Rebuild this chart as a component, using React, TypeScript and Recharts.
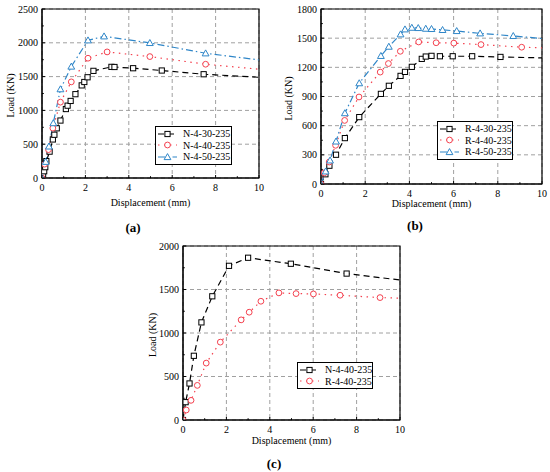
import React from 'react';
import { LineChart, Line, XAxis, YAxis, CartesianGrid, Legend, ReferenceArea } from 'recharts';

const FONT = '"Liberation Serif", "Times New Roman", serif';
const BLACK = '#000000';
const RED = '#f4414f';
const BLUE = '#2f86c8';

type Pt = [number, number];

const xTicks = [0, 2, 4, 6, 8, 10];
const yTicksA = [0, 500, 1000, 1500, 2000, 2500];
const yTicksB = [0, 300, 600, 900, 1200, 1500, 1800];
const yTicksC = [0, 500, 1000, 1500, 2000];

// displacement (mm), load (KN)
const n430: Pt[] = [
  [0, 0], [0.05, 50], [0.1, 100], [0.15, 160], [0.2, 250], [0.35, 390], [0.5, 570], [0.57, 640],
  [0.68, 735], [0.85, 850], [1.1, 1020], [1.18, 1070], [1.32, 1140], [1.54, 1240], [1.83, 1370],
  [1.95, 1420], [2.1, 1490], [2.37, 1585], [3.2, 1644], [3.34, 1642], [4.2, 1624], [5.52, 1590],
  [7.45, 1535], [10, 1490],
];
const n440: Pt[] = [
  [0, 0], [0.12, 205], [0.3, 420], [0.5, 738], [0.85, 1122], [1.35, 1422], [2.12, 1772],
  [3.0, 1865], [4.97, 1796], [7.54, 1683], [10, 1609],
];
const n450: Pt[] = [
  [0, 0], [0.17, 240], [0.32, 467], [0.52, 812], [0.85, 1314], [1.35, 1649], [2.12, 2037],
  [2.86, 2096], [4.97, 1998], [7.54, 1845], [10, 1747],
];
const r430: Pt[] = [
  [0, 0], [0.2, 100], [0.38, 188], [0.68, 301], [1.08, 472], [1.73, 688], [2.71, 927], [3.07, 1010],
  [3.6, 1112], [3.8, 1153], [4.11, 1205], [4.56, 1287], [4.74, 1311], [5.0, 1318], [5.38, 1314],
  [5.96, 1314], [6.84, 1314], [8.12, 1307], [10, 1297],
];
const r440: Pt[] = [
  [0, 0], [0.15, 115], [0.37, 226], [0.66, 398], [1.07, 654], [1.72, 895], [2.68, 1151],
  [3.05, 1239], [3.59, 1365], [4.42, 1461], [5.21, 1453], [6.01, 1449], [7.24, 1434],
  [9.08, 1407], [10, 1400],
];
const r450: Pt[] = [
  [0, 0], [0.21, 130], [0.41, 243], [0.68, 438], [1.08, 729], [1.73, 1037], [2.71, 1318],
  [3.07, 1413], [3.6, 1540], [3.8, 1591], [4.11, 1608], [4.4, 1605], [4.74, 1598], [5.0, 1595],
  [5.5, 1585], [6.14, 1574], [7.2, 1550], [8.7, 1523], [10, 1496],
];

const rows = (pts: Pt[]) => pts.map(([x, y]) => ({ x, y }));

type Kind = 'square' | 'circle' | 'triangle';
type Series = { name: string; pts: Pt[]; color: string; dash: string; kind: Kind };

const DASHED = '6 4';
const DOTTED = '1.5 4.5';
const DASHDOT = '7 3 1.5 3';

const Marker = ({ kind, cx, cy, color }: { kind: Kind; cx: number; cy: number; color: string }) => {
  if (kind === 'square')
    return <rect x={cx - 2.6} y={cy - 2.6} width={5.2} height={5.2} fill="#fff" stroke={color} strokeWidth={1} />;
  if (kind === 'circle') return <circle cx={cx} cy={cy} r={2.9} fill="#fff" stroke={color} strokeWidth={1} />;
  return (
    <polygon
      points={`${cx},${cy - 3.4} ${cx - 3.4},${cy + 2.6} ${cx + 3.4},${cy + 2.6}`}
      fill="#fff"
      stroke={color}
      strokeWidth={1}
    />
  );
};

const LegendBox = ({ series, width }: { series: Series[]; width: number }) => (
  <div
    style={{
      border: '1px solid #000',
      background: '#fff',
      width,
      padding: '1px 0',
      fontFamily: FONT,
      fontSize: 10,
      color: '#000',
      boxSizing: 'border-box',
    }}
  >
    {series.map((s) => (
      <div key={s.name} style={{ display: 'flex', alignItems: 'center', height: 11.5, whiteSpace: 'nowrap' }}>
        <svg width={24} height={10} style={{ marginLeft: 1, marginRight: 2, flex: 'none' }}>
          <line x1={1} x2={20} y1={5} y2={5} stroke={s.color} strokeWidth={1.2} strokeDasharray={s.dash} />
          <Marker kind={s.kind} cx={10.5} cy={5} color={s.color} />
        </svg>
        <span style={{ lineHeight: '11px', fontFamily: FONT }}>{s.name}</span>
      </div>
    ))}
  </div>
);

type PanelProps = {
  left: number;
  top: number;
  margin: { top: number; right: number; bottom: number; left: number };
  yAxisWidth: number;
  yTicks: number[];
  series: Series[];
  legend: { left: number; top: number; width: number };
  xLabelDy: number;
  yLabelX: number;
  caption: string;
  captionPos: { x: number; y: number };
};

const W = 275;
const H = 215;
const X_AXIS_H = 30;
const X_MARGIN = 6;
const Y_MARGIN = 4;

const txt = { fontSize: 10, fontFamily: FONT, fill: '#000' };

const Panel = (p: PanelProps) => {
  const plotW = W - p.margin.left - p.margin.right - p.yAxisWidth;
  const plotH = H - p.margin.top - p.margin.bottom - X_AXIS_H;
  const xStep = plotW / (xTicks.length - 1);
  const yStep = plotH / (p.yTicks.length - 1);
  const yMax = p.yTicks[p.yTicks.length - 1];

  const xTick = (props: any) => {
    const { x, y, payload, index } = props;
    const ay = y - X_MARGIN;
    return (
      <g>
        <line x1={x} x2={x} y1={ay} y2={ay - 3} stroke="#000" />
        {index < xTicks.length - 1 && (
          <line x1={x + xStep / 2} x2={x + xStep / 2} y1={ay} y2={ay - 1.8} stroke="#000" />
        )}
        <text x={x} y={y} dy="0.71em" textAnchor="middle" style={txt}>
          {payload.value}
        </text>
      </g>
    );
  };

  const yTick = (props: any) => {
    const { x, y, payload, index } = props;
    const ax = x + Y_MARGIN;
    return (
      <g>
        <line x1={ax} x2={ax + 3} y1={y} y2={y} stroke="#000" />
        {index < p.yTicks.length - 1 && (
          <line x1={ax} x2={ax + 1.8} y1={y - yStep / 2} y2={y - yStep / 2} stroke="#000" />
        )}
        <text x={x} y={y} dy="0.355em" textAnchor="end" style={txt}>
          {payload.value}
        </text>
      </g>
    );
  };

  return (
    <div style={{ position: 'absolute', left: p.left, top: p.top, width: W, height: H + 30 }}>
      <LineChart width={W} height={H} margin={p.margin}>
        <CartesianGrid stroke="#a0a0a0" strokeDasharray="4 3" />
        <XAxis
          type="number"
          dataKey="x"
          domain={[0, 10]}
          ticks={xTicks}
          height={X_AXIS_H}
          tickSize={0}
          tickMargin={X_MARGIN}
          tickLine={false}
          tick={xTick}
          stroke="#000"
          allowDataOverflow
          label={{
            content: (lp: any) => {
              const vb = lp.viewBox;
              return (
                <text x={vb.x + vb.width / 2} y={vb.y + p.xLabelDy} dy="0.35em" textAnchor="middle" style={txt}>
                  Displacement (mm)
                </text>
              );
            },
          }}
        />
        <YAxis
          type="number"
          domain={[0, yMax]}
          ticks={p.yTicks}
          width={p.yAxisWidth}
          tickSize={0}
          tickMargin={Y_MARGIN}
          tickLine={false}
          tick={yTick}
          stroke="#000"
          allowDataOverflow
          label={{
            content: (lp: any) => {
              const vb = lp.viewBox;
              const cx = vb.x + p.yLabelX;
              const cy = vb.y + vb.height / 2 + 2;
              return (
                <text
                  x={cx}
                  y={cy}
                  dy="0.35em"
                  textAnchor="middle"
                  style={txt}
                  transform={`rotate(-90 ${cx} ${cy})`}
                >
                  Load (KN)
                </text>
              );
            },
          }}
        />
        <ReferenceArea x1={0} x2={10} y1={0} y2={yMax} fill="none" stroke="#000" strokeWidth={1.2} ifOverflow="visible" />
        {p.series.map((s) => {
          const data = rows(s.pts);
          return (
            <Line
              key={s.name}
              name={s.name}
              data={data}
              dataKey="y"
              type="linear"
              stroke={s.color}
              strokeWidth={1.2}
              strokeDasharray={s.dash}
              activeDot={false}
              isAnimationActive={false}
              dot={(dp: any) =>
                dp.index === data.length - 1 ? (
                  <g key={`d-${dp.index}`} />
                ) : (
                  <Marker key={`d-${dp.index}`} kind={s.kind} cx={dp.cx} cy={dp.cy} color={s.color} />
                )
              }
            />
          );
        })}
        <Legend
          layout="vertical"
          align="center"
          verticalAlign="middle"
          wrapperStyle={{ left: p.legend.left, top: p.legend.top, width: p.legend.width }}
          content={() => <LegendBox series={p.series} width={p.legend.width} />}
        />
      </LineChart>
      <div
        style={{
          position: 'absolute',
          left: p.captionPos.x - 20,
          top: p.captionPos.y - 8,
          width: 40,
          textAlign: 'center',
          fontFamily: FONT,
          fontWeight: 'bold',
          fontSize: 13,
          lineHeight: '16px',
          color: '#000',
        }}
      >
        {p.caption}
      </div>
    </div>
  );
};

const seriesA: Series[] = [
  { name: 'N-4-30-235', pts: n430, color: BLACK, dash: DASHED, kind: 'square' },
  { name: 'N-4-40-235', pts: n440, color: RED, dash: DOTTED, kind: 'circle' },
  { name: 'N-4-50-235', pts: n450, color: BLUE, dash: DASHDOT, kind: 'triangle' },
];
const seriesB: Series[] = [
  { name: 'R-4-30-235', pts: r430, color: BLACK, dash: DASHED, kind: 'square' },
  { name: 'R-4-40-235', pts: r440, color: RED, dash: DOTTED, kind: 'circle' },
  { name: 'R-4-50-235', pts: r450, color: BLUE, dash: DASHDOT, kind: 'triangle' },
];
const seriesC: Series[] = [
  { name: 'N-4-40-235', pts: n440, color: BLACK, dash: DASHED, kind: 'square' },
  { name: 'R-4-40-235', pts: r440, color: RED, dash: DOTTED, kind: 'circle' },
];

export default function App() {
  return (
    <div
      style={{
        position: 'absolute',
        left: 0,
        top: 0,
        width: 550,
        height: 472,
        background: '#fff',
        overflow: 'hidden',
        fontFamily: FONT,
      }}
    >
      <Panel
        left={0}
        top={0}
        margin={{ top: 9, right: 16, bottom: 7, left: 0 }}
        yAxisWidth={42}
        yTicks={yTicksA}
        series={seriesA}
        legend={{ left: 155, top: 126, width: 77 }}
        xLabelDy={24}
        yLabelX={10}
        caption="(a)"
        captionPos={{ x: 133, y: 228 }}
      />
      <Panel
        left={275}
        top={0}
        margin={{ top: 9, right: 8, bottom: 1, left: 0 }}
        yAxisWidth={46}
        yTicks={yTicksB}
        series={seriesB}
        legend={{ left: 162, top: 121, width: 76 }}
        xLabelDy={19.5}
        yLabelX={13}
        caption="(b)"
        captionPos={{ x: 140, y: 226 }}
      />
      <Panel
        left={140}
        top={236}
        margin={{ top: 10, right: 15, bottom: 1, left: 0 }}
        yAxisWidth={43}
        yTicks={yTicksC}
        series={seriesC}
        legend={{ left: 157, top: 126, width: 76 }}
        xLabelDy={20}
        yLabelX={12}
        caption="(c)"
        captionPos={{ x: 134, y: 228 }}
      />
    </div>
  );
}
